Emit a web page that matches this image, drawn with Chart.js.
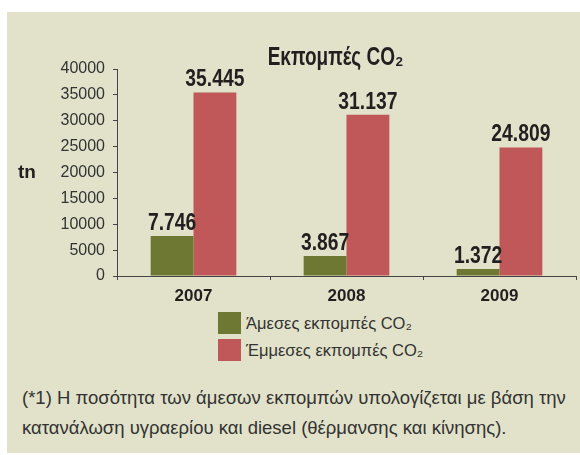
<!DOCTYPE html>
<html>
<head>
<meta charset="utf-8">
<script src="https://cdn.jsdelivr.net/npm/chart.js@4.4.0/dist/chart.umd.min.js"></script>
<style>
html, body { margin: 0; padding: 0; background: #fff; }
#panel { position: absolute; left: 7px; top: 12px; width: 573px; height: 441px; background: #e1e2c9; }
#wrap { position: absolute; left: 0; top: 0; width: 573px; height: 300px; }
#legend { position: absolute; left: 211px; top: 300px; font-family: 'Liberation Sans', sans-serif; font-size: 16.5px; color: #333; }
.item { display: flex; align-items: center; height: 22px; margin-bottom: 5px; }
.box { width: 23px; height: 22px; margin-right: 5px; }
#note { position: absolute; left: 15px; top: 371px; width: 562px; font-family: 'Liberation Sans', sans-serif; font-size: 18.5px; line-height: 30px; color: #333; }
</style>
</head>
<body>
<div id="panel">
  <div id="wrap"><canvas id="co2Chart"></canvas></div>
  <div id="legend"></div>
  <div id="note">(*1) Η ποσότητα των άμεσων εκπομπών υπολογίζεται με βάση την κατανάλωση υγραερίου και diesel (θέρμανσης και κίνησης).</div>
</div>
<script>
// data (tonnes CO2)
const years = ['2007', '2008', '2009'];
const directCO2 = [7746, 3867, 1372];
const indirectCO2 = [35445, 31137, 24809];
const seriesNames = ['Άμεσες εκπομπές CO₂', 'Έμμεσες εκπομπές CO₂'];
const seriesColors = ['#6e7832', '#c05758'];
const chartTitle = 'Εκπομπές CO₂';

const regular = "'Liberation Sans', sans-serif";

// greek style thousands: 35445 -> 35.445
function fmt(v) {
    return String(v).replace(/\B(?=(\d{3})+(?!\d))/g, '.');
}

// squeezed text, the original uses a condensed face
function narrowText(ctx, text, x, y, squeeze) {
    ctx.save();
    ctx.translate(x, y);
    ctx.scale(squeeze, 1);
    ctx.fillText(text, 0, 0);
    ctx.restore();
}

const extras = {
    id: 'extras',
    afterDatasetsDraw(chart) {
        const ctx = chart.ctx;
        const area = chart.chartArea;
        ctx.save();
        ctx.fillStyle = '#231f20';

        // values over the bars
        ctx.font = 'bold 23px ' + regular;
        ctx.textAlign = 'center';
        ctx.textBaseline = 'bottom';
        chart.data.datasets.forEach((ds, i) => {
            chart.getDatasetMeta(i).data.forEach((bar, j) => {
                narrowText(ctx, fmt(ds.data[j]), bar.x, bar.y - 1, 0.84);
            });
        });

        // title, sits a bit left of the plot centre
        ctx.font = 'bold 25px ' + regular;
        ctx.textBaseline = 'middle';
        narrowText(ctx, chartTitle, (area.left + area.right) / 2 - 11, area.top - 11, 0.76);

        // unit label on the left
        ctx.font = 'bold 19px ' + regular;
        ctx.textAlign = 'left';
        narrowText(ctx, 'tn', 11, (area.top + area.bottom) / 2, 1);
        ctx.restore();
    }
};

const ctx = document.getElementById('co2Chart').getContext('2d');
const chart = new Chart(ctx, {
    type: 'bar',
    data: {
        labels: years,
        datasets: [
            {
                label: seriesNames[0],
                data: directCO2,
                backgroundColor: seriesColors[0],
                categoryPercentage: 0.56,
                barPercentage: 1
            },
            {
                label: seriesNames[1],
                data: indirectCO2,
                backgroundColor: seriesColors[1],
                categoryPercentage: 0.56,
                barPercentage: 1
            }
        ]
    },
    options: {
        responsive: true,
        maintainAspectRatio: false,
        animation: false,
        layout: { padding: { left: 0, right: 4, top: 57, bottom: 0 } },
        plugins: {
            legend: { display: false },
            tooltip: { enabled: false },
            title: { display: false }
        },
        scales: {
            x: {
                offset: true,
                ticks: { color: '#231f20', font: { family: regular, size: 17, weight: 'bold' }, padding: 6 },
                grid: { drawOnChartArea: false, drawTicks: true, tickLength: 4, offset: true, color: '#444' },
                border: { display: true, color: '#444' },
                afterFit(s) { s.height = 36; }
            },
            y: {
                min: 0,
                max: 40000,
                ticks: {
                    stepSize: 5000,
                    color: '#333',
                    font: { family: regular, size: 16 },
                    padding: 8,
                    callback: v => String(v)
                },
                grid: { drawOnChartArea: false, drawTicks: true, tickLength: 4, color: '#444' },
                border: { display: true, color: '#444' },
                afterFit(s) { s.width = 110; }
            }
        }
    },
    plugins: [extras]
});

// legend below the chart, stacked
const legend = document.getElementById('legend');
chart.data.datasets.forEach(ds => {
    const item = document.createElement('div');
    item.className = 'item';
    item.innerHTML = '<span class="box" style="background:' + ds.backgroundColor + '"></span><span>' + ds.label + '</span>';
    legend.appendChild(item);
});
</script>
</body>
</html>
